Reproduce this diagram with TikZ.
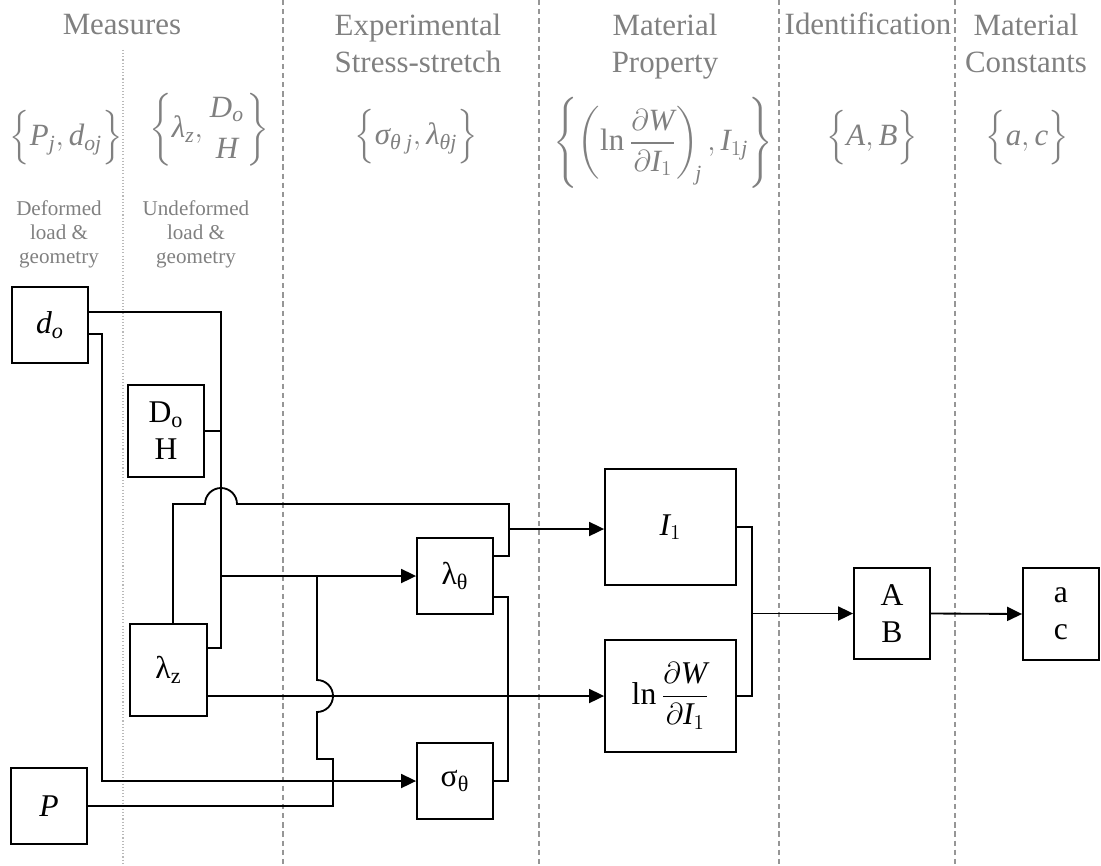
\documentclass[tikz,border=0pt]{standalone}
\usepackage{amsmath}
\usepackage{fontspec}
\setmainfont{Liberation Serif}
\usetikzlibrary{arrows.meta}
\definecolor{hdgray}{RGB}{128,128,128}
\definecolor{sepgray}{RGB}{150,150,150}
\definecolor{dotgray}{RGB}{185,185,185}
\newcommand{\mv}[1]{\textit{#1}}

\begin{document}
\begin{tikzpicture}[x=0.02cm,y=-0.02cm,line width=1.05pt,
  box/.style={draw,inner sep=0pt,minimum width=1.52cm,minimum height=1.52cm,align=center,font=\fontsize{18}{21}\selectfont},
  hdr/.style={text=hdgray,align=center,inner sep=0pt,font=\fontsize{17.6}{21}\selectfont},
  sub/.style={text=hdgray,align=center,inner sep=0pt,font=\fontsize{12}{13.7}\selectfont},
  sep/.style={sepgray,line width=0.6pt,dash pattern=on 3pt off 2.2pt},
  arr/.style={-{Triangle[length=0.3cm,width=0.28cm]}}]
\useasboundingbox (0,0) rectangle (1101,865);
\draw[dotgray,line width=0.6pt,dash pattern=on 0.6pt off 1.2pt] (123,50) -- (123,865);
\foreach \xs in {283,539,779,955}
  \draw[sep] (\xs,0) -- (\xs,865);

\node[hdr,anchor=base] (hMeas) at (122,35) {Measures};
\node[hdr] (hExp) at (418,43) {Experimental\\Stress-stretch};
\node[hdr] (hProp) at (665,46.5) {Material\\Property};
\node[hdr,anchor=base] (hIdent) at (868,35) {Identification};
\node[hdr] (hConst) at (1026,43) {Material\\Constants};

\node[hdr] (fDef) at (66,138) {$\Bigl\{\mv{P}_{\mv{j}},\mv{d}_{\mv{oj}}\Bigr\}$};
\node[hdr] (fUndef) at (209,130) {$\left\{\mv{λ}_{\mv{z}},\genfrac{}{}{0pt}{0}{\mv{D}_{\mv{o}}}{\mv{H}}\right\}$};
\node[hdr] (fExp) at (416,137) {$\Bigl\{\mv{σ}_{\mv{θ j}},\mv{λ}_{\mv{θj}}\Bigr\}$};
\node[hdr] (fProp) at (663,143) {$\left\{\left(\ln\dfrac{\partial \mv{W}}{\partial \mv{I}_1}\right)_{\!\mv{j}},\mv{I}_{1\mv{j}}\right\}$};
\node[hdr] (fIdent) at (872,138) {$\Bigl\{\mv{A},\mv{B}\Bigr\}$};
\node[hdr] (fConst) at (1027,138) {$\Bigl\{\mv{a},\mv{c}\Bigr\}$};

\node[sub] (sDef) at (59,234.5) {Deformed\\load \&\\geometry};
\node[sub] (sUndef) at (196,234.5) {Undeformed\\load \&\\geometry};

\node[box] (do) at (50,325) {$\mv{d}_{\mv{o}}$};
\node[box,minimum height=1.84cm] (DH) at (166,431) {D\textsubscript{o}\\H};
\node[box,minimum width=1.54cm,minimum height=1.84cm] (lz) at (168.5,670) {λ\textsubscript{z}};
\node[box] (P) at (49,806) {\mv{P}};
\node[box] (lt) at (455,576) {λ\textsubscript{θ}};
\node[box] (st) at (455,781) {σ\textsubscript{θ}};
\node[box,minimum width=2.62cm,minimum height=2.32cm] (I1) at (670.5,527) {$\mv{I}_1$};
\node[box,minimum width=2.62cm,minimum height=2.24cm] (lnW) at (670.5,696) {$\ln\dfrac{\partial \mv{W}}{\partial \mv{I}_1}$};
\node[box,minimum height=1.82cm] (AB) at (892,613.5) {A\\B};
\node[box,minimum height=1.84cm] (ac) at (1061,614) {a\\c};

\coordinate (zbus) at (221,648);
\coordinate (tbus) at (509,504);
\coordinate (sbus) at (508,781);
\coordinate (obus) at (752,696);

\draw (do.east |- 0,312) -| (zbus) -- (lz.east |- zbus);
\draw (DH.east) -- (DH.east -| zbus);
\draw[arr] (zbus |- lt.west) -- (lt.west);
\draw (lz.north -| 173,0) -- (173,504) -- (205,504) arc[start angle=180,end angle=0,radius=0.32cm] -- (tbus) -- (509,556) -- (lt.east |- 0,556);
\draw[arr] (509,529) -- (I1.west |- 0,529);
\draw (lt.east |- 0,597) -| (sbus) -- (st.east);
\draw[arr] (lz.east |- lnW.west) -- (lnW.west);
\draw (317,576) -- (317,680) arc[start angle=90,end angle=-90,radius=0.32cm] -- (317,759) -- (333,759) |- (P.east);
\draw[arr] (do.east |- 0,334) -| (102,781) -- (st.west);
\draw (I1.east) -| (obus) -- (lnW.east);
\draw[arr] (obus |- AB.west) -- (AB.west);
\draw[arr] (AB.east) -- (ac.west);
\end{tikzpicture}
\end{document}
